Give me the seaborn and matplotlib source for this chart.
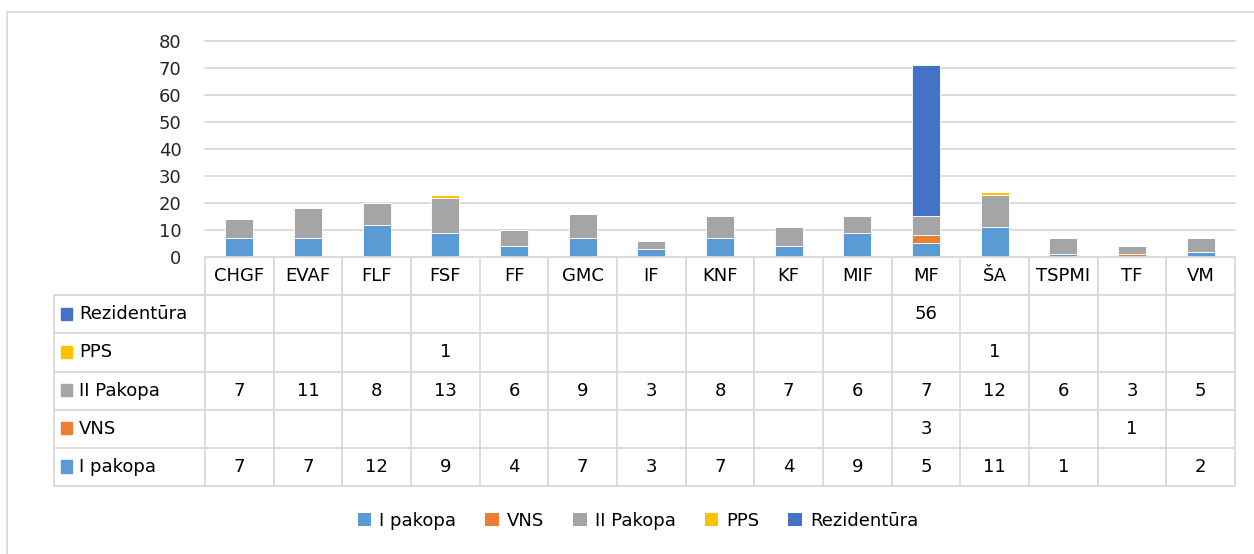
import numpy as np
import matplotlib
matplotlib.use("Agg")
import matplotlib.pyplot as plt
from matplotlib.patches import Patch, Rectangle
from matplotlib.lines import Line2D
import seaborn as sns

# chart data (blank table cells = NaN)
faculties = ['CHGF', 'EVAF', 'FLF', 'FSF', 'FF', 'GMC', 'IF', 'KNF', 'KF', 'MIF',
             'MF', 'ŠA', 'TSPMI', 'TF', 'VM']
i_pakopa = [7, 7, 12, 9, 4, 7, 3, 7, 4, 9, 5, 11, 1, np.nan, 2]
vns = [np.nan] * 10 + [3, np.nan, np.nan, 1, np.nan]
ii_pakopa = [7, 11, 8, 13, 6, 9, 3, 8, 7, 6, 7, 12, 6, 3, 5]
pps = [np.nan, np.nan, np.nan, 1] + [np.nan] * 7 + [1, np.nan, np.nan, np.nan]
rezidentura = [np.nan] * 10 + [56] + [np.nan] * 4

series_names = ['I pakopa', 'VNS', 'II Pakopa', 'PPS', 'Rezidentūra']
series_vals = [i_pakopa, vns, ii_pakopa, pps, rezidentura]
colors = ['#5B9BD5', '#ED7D31', '#A5A5A5', '#FFC000', '#4472C4']

sns.set_style('white')
plt.rcParams['font.family'] = ['DejaVu Sans']
plt.rcParams['text.color'] = '#000000'
FS = 13

W, H = 1254, 554
fig = plt.figure(figsize=(W / 100, H / 100), dpi=100)

# bar area
x0, x1 = 205, 1235
ytop, ybot = 41, 257
ax = fig.add_axes([x0 / W, 1 - ybot / H, (x1 - x0) / W, (ybot - ytop) / H])

bottom = np.zeros(len(faculties))
for name, vals, c in zip(series_names, series_vals, colors):
    h = np.nan_to_num(np.array(vals, dtype=float))
    sns.barplot(x=faculties, y=h, bottom=bottom, color=c, width=0.41,
                errorbar=None, edgecolor='white', linewidth=0.6,
                saturation=1, ax=ax)
    bottom = bottom + h

ax.set_xlim(-0.5, len(faculties) - 0.5)
ax.set_ylim(0, 80)
ax.set_yticks(range(0, 81, 10))
ax.set_xticks([])
ax.set_xlabel('')
ax.tick_params(axis='y', length=0, pad=17, labelsize=FS)
for y in range(10, 81, 10):
    ax.axhline(y, color='#D9D9D9', lw=1.3, zorder=0, clip_on=False)
for s in ax.spines.values():
    s.set_visible(False)
ax.set_axisbelow(True)

# data table below
tl = 54
tbot = 486
ncol = len(faculties)
colw = (x1 - x0) / ncol
labw = (x0 - tl) / colw
tax = fig.add_axes([tl / W, 1 - tbot / H, (x1 - tl) / W, (tbot - ybot) / H])
tax.set_xlim(-0.5 - labw, ncol - 0.5)
tax.set_ylim(6, 0)
tax.axis('off')

gc = '#D9D9D9'
lw = 1.3
# horizontal lines
tax.plot([-0.5, ncol - 0.5], [0, 0], color=gc, lw=lw, clip_on=False)
for r in range(1, 7):
    tax.plot([-0.5 - labw, ncol - 0.5], [r, r], color=gc, lw=lw, clip_on=False)
# vertical lines
tax.plot([-0.5 - labw] * 2, [1, 6], color=gc, lw=lw, clip_on=False)
for c in range(ncol + 1):
    tax.plot([c - 0.5] * 2, [0, 6], color=gc, lw=lw, clip_on=False)

for i, f in enumerate(faculties):
    tax.text(i, 0.5, f, ha='center', va='center', fontsize=FS)

# rows from top: Rezidentūra, PPS, II Pakopa, VNS, I pakopa
order = list(range(len(series_names)))[::-1]
for r, k in enumerate(order, start=1):
    tax.add_patch(Rectangle((-0.5 - labw + 7 / colw, r + 0.5 - 0.17), 10.5 / colw, 0.32,
                            color=colors[k], clip_on=False))
    tax.text(-0.5 - labw + 25 / colw, r + 0.5, series_names[k], ha='left',
             va='center', fontsize=FS)
    for i, v in enumerate(series_vals[k]):
        if not np.isnan(v):
            tax.text(i, r + 0.5, f'{int(v)}', ha='center', va='center', fontsize=FS)

# legend
handles = [Patch(facecolor=c, edgecolor='none', label=n) for n, c in zip(series_names, colors)]
fig.legend(handles=handles, loc='center', bbox_to_anchor=(638 / W, 1 - 521 / H),
           ncol=5, frameon=False, fontsize=FS, handlelength=0.75, handleheight=0.75,
           handletextpad=0.45, columnspacing=1.6)

# chart border (only top and left edges are visible in the crop)
fig.lines.append(Line2D([7 / W, 1], [1 - 12 / H, 1 - 12 / H], transform=fig.transFigure,
                        color='#D9D9D9', lw=1.2))
fig.lines.append(Line2D([7 / W, 7 / W], [0, 1 - 12 / H], transform=fig.transFigure,
                        color='#D9D9D9', lw=1.2))

fig.savefig('out.png', dpi=100, facecolor='white')
